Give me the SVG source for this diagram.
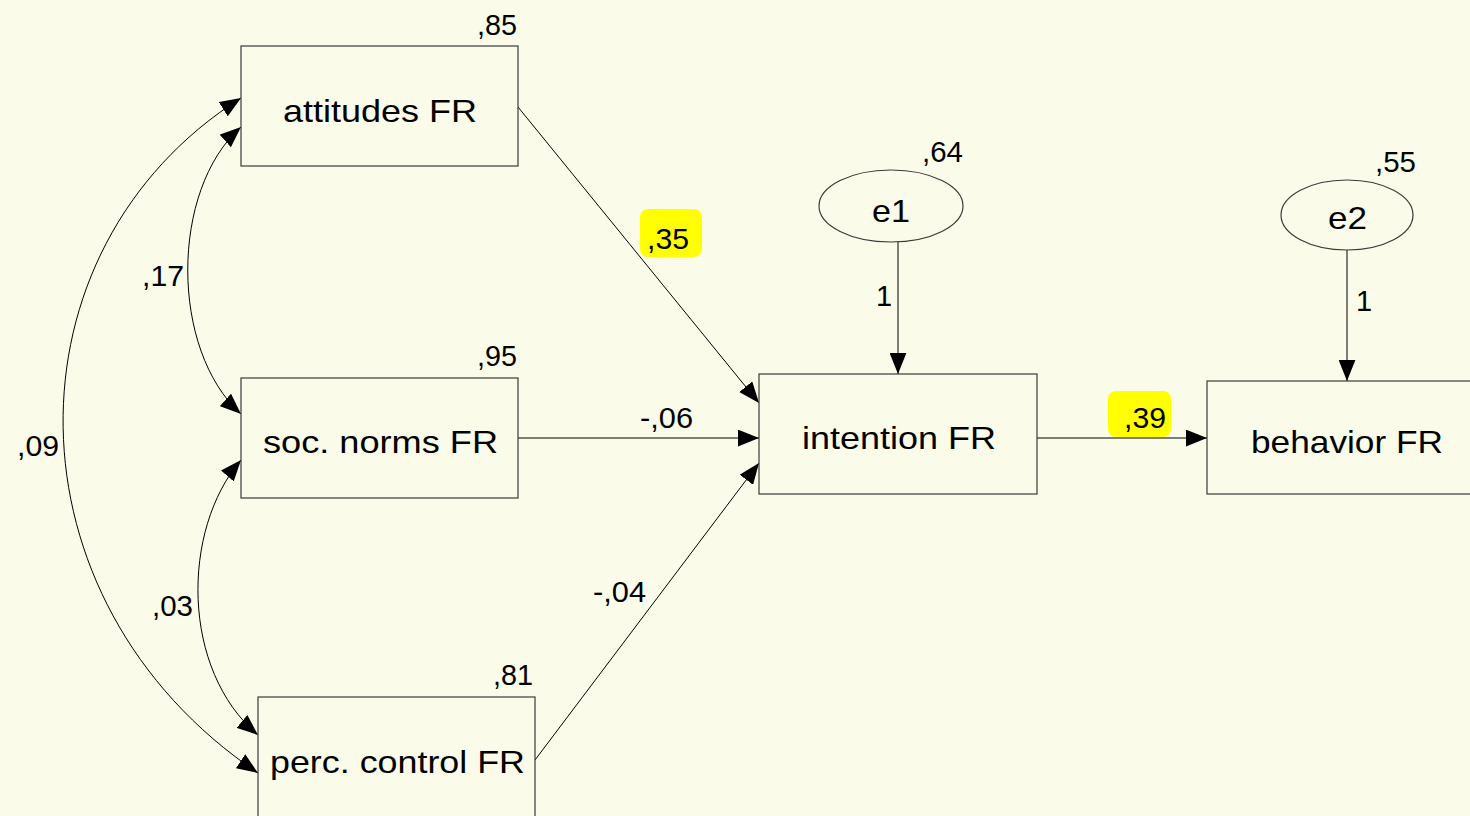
<svg xmlns="http://www.w3.org/2000/svg" width="1470" height="816" viewBox="0 0 1470 816">
<style>
.bg{fill:#FAFCE9}
.box{fill:#FAFCE9;stroke:#3a3a3a;stroke-width:1.2}
.ell{fill:#FAFCE9;stroke:#3a3a3a;stroke-width:1.2}
.lbl{font-family:"Liberation Sans",Arial,sans-serif;font-size:32px;fill:#000}
.num{font-family:"Liberation Sans",Arial,sans-serif;font-size:29px;fill:#000}
.hl{fill:#FFFF00}
.edge{fill:none;stroke:#000;stroke-width:1}
</style>
<defs>
<marker id="ah" viewBox="0 0 20 16" refX="20" refY="8" markerWidth="21" markerHeight="17" markerUnits="userSpaceOnUse" orient="auto-start-reverse">
<path d="M0,0 L20,8 L0,16 z" fill="#000"/>
</marker>
</defs>
<rect class="bg" x="0" y="0" width="1470" height="816"/>

<g id="connectors">
<path class="edge" d="M241,127 C170,190 170,350 241,414" marker-start="url(#ah)" marker-end="url(#ah)"/>
<path class="edge" d="M241,460 C181,530 181,670 258,735" marker-start="url(#ah)" marker-end="url(#ah)"/>
<path class="edge" d="M241,98 C1,250 1,600 258,773" marker-start="url(#ah)" marker-end="url(#ah)"/>
<path class="edge" d="M518,107 L759,403" marker-end="url(#ah)"/>
<path class="edge" d="M518,438 L759,438" marker-end="url(#ah)"/>
<path class="edge" d="M535,760 L759,463" marker-end="url(#ah)"/>
<path class="edge" d="M1037,438 L1207,438" marker-end="url(#ah)"/>
<path class="edge" d="M898,242 L898,374" marker-end="url(#ah)"/>
<path class="edge" d="M1347,250 L1347,381" marker-end="url(#ah)"/>
<rect class="hl" x="640" y="209" width="62" height="48" rx="8"/>
<rect class="hl" x="1108" y="391" width="63" height="46" rx="8"/>
<text class="num" x="647" y="249" textLength="42" lengthAdjust="spacingAndGlyphs">,35</text>
<text class="num" x="1124" y="428" textLength="42" lengthAdjust="spacingAndGlyphs">,39</text>
<text class="num" x="640" y="428" textLength="53" lengthAdjust="spacingAndGlyphs">-,06</text>
<text class="num" x="593" y="602" textLength="53" lengthAdjust="spacingAndGlyphs">-,04</text>
<text class="num" x="142" y="286" textLength="42" lengthAdjust="spacingAndGlyphs">,17</text>
<text class="num" x="152" y="616" textLength="41" lengthAdjust="spacingAndGlyphs">,03</text>
<text class="num" x="17" y="456" textLength="42" lengthAdjust="spacingAndGlyphs">,09</text>
<text class="num" x="876" y="306">1</text>
<text class="num" x="1356" y="311">1</text>
</g>

<g id="attitudes">
<rect class="box" x="241" y="46" width="277" height="120"/>
<text class="lbl" x="283" y="122" textLength="194" lengthAdjust="spacingAndGlyphs">attitudes FR</text>
<text class="num" x="477" y="35" textLength="40" lengthAdjust="spacingAndGlyphs">,85</text>
</g>
<g id="socnorms">
<rect class="box" x="241" y="378" width="277" height="120"/>
<text class="lbl" x="263" y="453" textLength="235" lengthAdjust="spacingAndGlyphs">soc. norms FR</text>
<text class="num" x="477" y="366" textLength="40" lengthAdjust="spacingAndGlyphs">,95</text>
</g>
<g id="perccontrol">
<rect class="box" x="258" y="697" width="277" height="130"/>
<text class="lbl" x="270" y="773" textLength="255" lengthAdjust="spacingAndGlyphs">perc. control FR</text>
<text class="num" x="493" y="685" textLength="40" lengthAdjust="spacingAndGlyphs">,81</text>
</g>
<g id="intention">
<rect class="box" x="759" y="374" width="278" height="120"/>
<text class="lbl" x="802" y="449" textLength="194" lengthAdjust="spacingAndGlyphs">intention FR</text>
</g>
<g id="behavior">
<rect class="box" x="1207" y="381" width="280" height="113"/>
<text class="lbl" x="1251" y="453" textLength="192" lengthAdjust="spacingAndGlyphs">behavior FR</text>
</g>
<g id="e1">
<ellipse class="ell" cx="891" cy="206" rx="72" ry="36"/>
<text class="lbl" x="872" y="222" textLength="38" lengthAdjust="spacingAndGlyphs">e1</text>
<text class="num" x="922" y="162" textLength="41" lengthAdjust="spacingAndGlyphs">,64</text>
</g>
<g id="e2">
<ellipse class="ell" cx="1347" cy="215" rx="66" ry="35"/>
<text class="lbl" x="1328" y="229" textLength="39" lengthAdjust="spacingAndGlyphs">e2</text>
<text class="num" x="1375" y="172" textLength="41" lengthAdjust="spacingAndGlyphs">,55</text>
</g>
</svg>
